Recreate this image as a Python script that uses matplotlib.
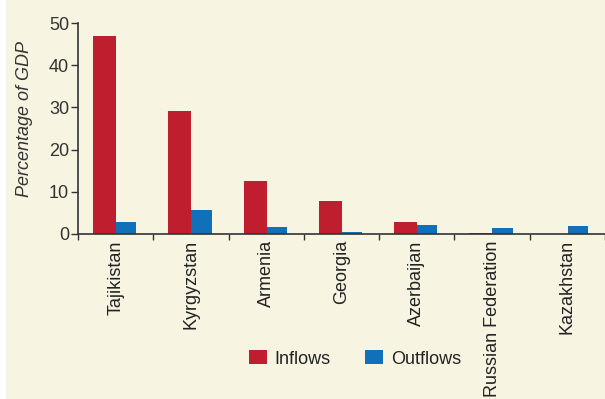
import matplotlib
matplotlib.use("Agg")
import matplotlib.pyplot as plt
from matplotlib.patches import Rectangle, Patch
import numpy as np

plt.rcParams["font.family"] = ["Liberation Sans", "DejaVu Sans"]

countries = ["Tajikistan", "Kyrgyzstan", "Armenia", "Georgia", "Azerbaijan",
             "Russian Federation", "Kazakhstan"]
inflows = [47.0, 29.1, 12.6, 7.8, 2.8, 0.3, 0.05]
outflows = [2.8, 5.7, 1.7, 0.5, 2.1, 1.4, 1.9]
y_ticks = [0, 10, 20, 30, 40, 50]

red = "#BE1E2D"
blue = "#1170BA"
cream = "#F7F4E1"
ink = "#333333"

fig = plt.figure(figsize=(6.05, 3.99), dpi=100)
fig.patch.set_facecolor("white")
fig.patches.append(Rectangle((6 / 605, 0), 1, 1, transform=fig.transFigure,
                             facecolor=cream, edgecolor="none", zorder=-10))

ax = fig.add_axes([78 / 605, 1 - 234 / 399, 1 - 78 / 605, (234 - 23) / 399])
ax.set_facecolor(cream)

x = np.arange(len(countries))
w_in, w_out = 0.305, 0.27
ax.bar(x - 0.5 + 0.2, inflows, width=w_in, align="edge", color=red, label="Inflows")
ax.bar(x - 0.5 + 0.2 + w_in, outflows, width=w_out, align="edge", color=blue, label="Outflows")

ax.set_xlim(-0.5, len(countries) - 0.5)
ax.set_ylim(0, 50)
ax.set_yticks(y_ticks)
ax.tick_params(axis="y", labelsize=13, colors=ink, length=5, width=1, direction="out", pad=1.5)

ax.set_xticks(np.arange(len(countries) + 1) - 0.5)
ax.set_xticklabels([])
ax.set_xticks(x, minor=True)
ax.set_xticklabels(countries, minor=True, rotation=90, fontsize=13, color="#222222",
                   va="top", ha="center")
ax.tick_params(axis="x", which="major", length=4.5, width=1, colors=ink, direction="out")
ax.tick_params(axis="x", which="minor", length=0, pad=4.5)

for side in ["top", "right"]:
    ax.spines[side].set_visible(False)
for side in ["left", "bottom"]:
    ax.spines[side].set_color(ink)
    ax.spines[side].set_linewidth(1.2)

ax.set_ylabel("Percentage of GDP", fontsize=13, style="italic", color=ink)
ax.yaxis.set_label_coords(-0.086, 0.545)

handles = [Patch(facecolor=red, label="Inflows"), Patch(facecolor=blue, label="Outflows")]
fig.legend(handles=handles, loc="center", bbox_to_anchor=(355 / 605, 1 - 359 / 399),
           ncol=2, frameon=False, fontsize=13, handlelength=1.0, handleheight=0.78,
           columnspacing=1.9, handletextpad=0.45, labelcolor="#222222",
           borderpad=0, borderaxespad=0)

fig.savefig("out.png", dpi=100, facecolor=fig.get_facecolor())
